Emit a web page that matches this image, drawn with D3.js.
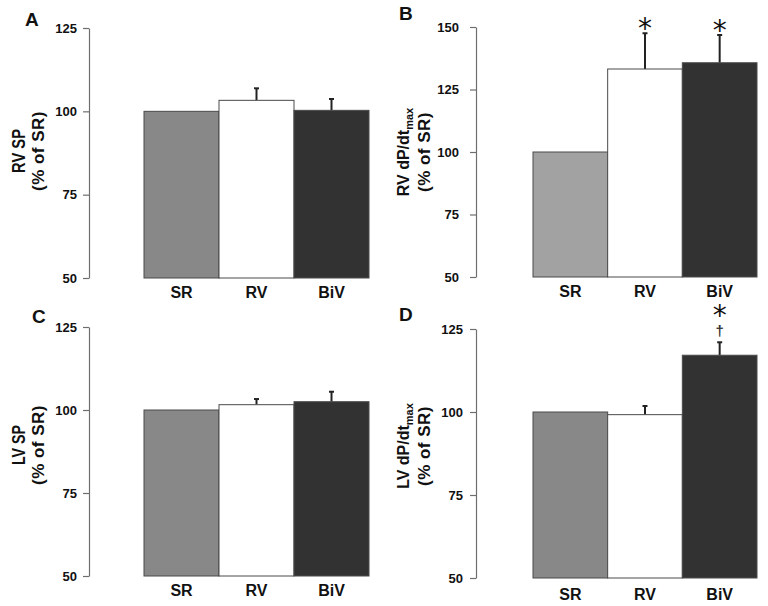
<!DOCTYPE html>
<html><head><meta charset="utf-8">
<script src="https://cdn.jsdelivr.net/npm/d3@7"></script>
<style>body{margin:0;background:#fff} svg{display:block}</style>
</head><body><svg id="c" width="768" height="606"></svg>
<script>
const categories = ["SR", "RV", "BiV"];
const rvSP = [100, 103.3, 100.3];
const rvSPErr = [0, 3.6, 3.4];
const rvDpdt = [100, 133.2, 135.7];
const rvDpdtErr = [0, 14.3, 11.1];
const lvSP = [100, 101.6, 102.5];
const lvSPErr = [0, 1.7, 3.0];
const lvDpdt = [100, 99.2, 117.1];
const lvDpdtErr = [0, 2.6, 3.9];
const ticks125 = [50, 75, 100, 125];
const ticks150 = [50, 75, 100, 125, 150];
const panelLetters = ["A", "B", "C", "D"];
const rvDpdtMarks = [[], ["*"], ["*"]];
const lvDpdtMarks = [[], [], ["*", "\u2020"]];
const noMarks = [[], [], []];

const barFill = ["#888888", "#ffffff", "#323232"];
const barFillB = ["#a2a2a2", "#ffffff", "#323232"];

const svg = d3.select("#c");
const FONT = "'Liberation Sans', Arial, sans-serif";

const panels = [
  {letter: panelLetters[0], vals: rvSP, errs: rvSPErr, ticks: ticks125, marks: noMarks, fills: barFill,
   axisX: 89, x0: 144, x1: 369, yTop: 28, yBot: 278, lx: 25, ly: 26, labY: 298, pad: 6,
   t1: "RV SP", t1len: 44, sub: null, tY: 151, t1x: 25, t2x: 44},
  {letter: panelLetters[1], vals: rvDpdt, errs: rvDpdtErr, ticks: ticks150, marks: rvDpdtMarks, fills: barFillB,
   axisX: 476, x0: 533, x1: 757, yTop: 27, yBot: 277, lx: 399, ly: 20, labY: 297, pad: 11,
   t1: "RV dP/dt", sub: "max", tY: 152, t1x: 409, t2x: 430},
  {letter: panelLetters[2], vals: lvSP, errs: lvSPErr, ticks: ticks125, marks: noMarks, fills: barFill,
   axisX: 89, x0: 144, x1: 369, yTop: 327, yBot: 576, lx: 32, ly: 323, labY: 596, pad: 6,
   t1: "LV SP", t1len: 40, sub: null, tY: 445, t1x: 25, t2x: 44},
  {letter: panelLetters[3], vals: lvDpdt, errs: lvDpdtErr, ticks: ticks125, marks: lvDpdtMarks, fills: barFill,
   axisX: 476, x0: 533, x1: 757, yTop: 329, yBot: 578, lx: 399, ly: 321, labY: 600, pad: 7,
   t1: "LV dP/dt", sub: "max", tY: 446, t1x: 409, t2x: 430}
];

panels.forEach(p => {
  const g = svg.append("g");
  const y = d3.scaleLinear().domain([p.ticks[0], p.ticks[p.ticks.length - 1]]).range([p.yBot, p.yTop]);
  const x = d3.scaleBand().domain(categories).range([p.x0, p.x1]).padding(0);

  // axis
  const ax = g.append("g").attr("transform", `translate(${p.axisX},0)`)
    .call(d3.axisLeft(y).tickValues(p.ticks).tickSize(6).tickSizeOuter(0).tickPadding(p.pad));
  ax.select(".domain").attr("stroke", "#6e6e6e").attr("stroke-width", 1.2);
  ax.selectAll(".tick line").attr("stroke", "#6e6e6e").attr("stroke-width", 1.2);
  ax.selectAll(".tick text").attr("font-family", FONT).attr("font-weight", "bold")
    .attr("font-size", 13).attr("fill", "#111");

  const data = categories.map((c, i) => ({c, v: p.vals[i], e: p.errs[i], fill: p.fills[i], marks: p.marks[i]}));

  // error bars (upper only)
  data.filter(d => d.e > 0).forEach(d => {
    const cx = x(d.c) + x.bandwidth() / 2;
    g.append("line").attr("x1", cx).attr("x2", cx).attr("y1", y(d.v)).attr("y2", y(d.v + d.e))
      .attr("stroke", "#222").attr("stroke-width", 2);
    g.append("line").attr("x1", cx - 2.5).attr("x2", cx + 2.5).attr("y1", y(d.v + d.e)).attr("y2", y(d.v + d.e))
      .attr("stroke", "#222").attr("stroke-width", 2);
  });

  // bars
  g.selectAll("rect.bar").data(data).join("rect").attr("class", "bar")
    .attr("x", d => x(d.c)).attr("width", x.bandwidth())
    .attr("y", d => y(d.v)).attr("height", d => y(p.ticks[0]) - y(d.v))
    .attr("fill", d => d.fill).attr("stroke", "#4a4a4a").attr("stroke-width", 1);

  // significance marks (one text element per bar, stacked tspans)
  data.filter(d => d.marks.length).forEach(d => {
    const cx = x(d.c) + x.bandwidth() / 2;
    const base = y(d.v + d.e);
    const t = g.append("text").attr("text-anchor", "middle").attr("fill", "#111");
    if (d.marks.length === 1) {
      t.attr("x", cx).attr("y", base + 5).attr("font-family", "'DejaVu Sans', sans-serif")
        .attr("font-size", 28).text(d.marks[0]);
    } else {
      t.append("tspan").attr("x", cx).attr("y", base - 17).attr("font-family", "'DejaVu Sans', sans-serif")
        .attr("font-size", 28).text(d.marks[0]);
      t.append("tspan").attr("x", cx).attr("y", base - 6).attr("font-family", FONT)
        .attr("font-weight", "bold").attr("font-size", 15).attr("fill", "#333").text(d.marks[1]);
    }
  });

  // x labels
  g.selectAll("text.xl").data(categories).join("text").attr("class", "xl")
    .attr("x", d => x(d) + x.bandwidth() / 2).attr("y", p.labY).attr("text-anchor", "middle")
    .attr("font-family", FONT).attr("font-weight", "bold").attr("font-size", 16).attr("fill", "#111").text(d => d);

  // panel letter
  g.append("text").attr("x", p.lx).attr("y", p.ly).attr("font-family", FONT).attr("font-weight", "bold")
    .attr("font-size", 19).attr("fill", "#111").text(p.letter);

  // y title
  const t1 = g.append("text").attr("transform", `translate(${p.t1x},${p.tY}) rotate(-90)`)
    .attr("text-anchor", "middle").attr("font-family", FONT).attr("font-weight", "bold")
    .attr("font-size", p.sub ? 16 : 18).attr("fill", "#111");
  if (p.sub) {
    t1.append("tspan").text(p.t1);
    t1.append("tspan").attr("font-size", 11).attr("dy", 4).text(p.sub);
  } else {
    t1.text(p.t1).attr("textLength", p.t1len).attr("lengthAdjust", "spacingAndGlyphs");
  }
  g.append("text").attr("transform", `translate(${p.t2x},${p.tY}) rotate(-90)`)
    .attr("text-anchor", "middle").attr("font-family", FONT).attr("font-weight", "bold")
    .attr("font-size", 17).attr("fill", "#111").attr("letter-spacing", 0.5).text("(% of SR)");
});
</script></body></html>
